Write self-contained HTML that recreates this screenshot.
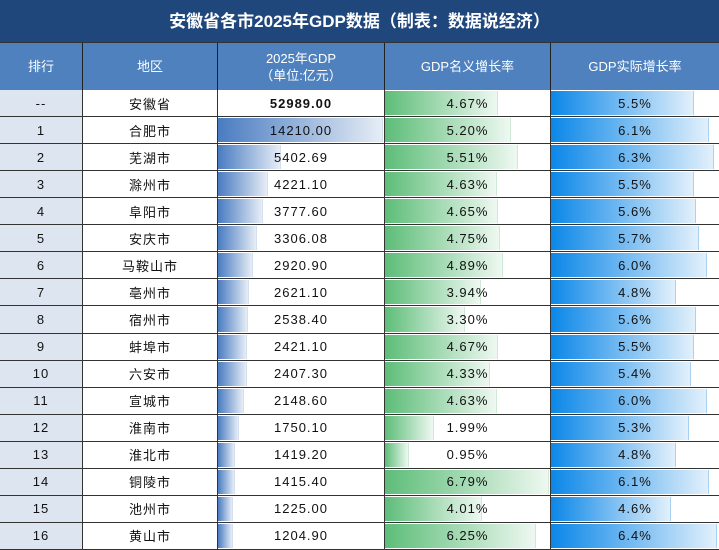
<!DOCTYPE html>
<html><head><meta charset="utf-8">
<style>
body{margin:0;width:719px;height:550px;overflow:hidden;background:#fff;font-family:"Liberation Sans","Noto Sans CJK SC",sans-serif;}
#wrap{position:relative;width:719px;height:550px;}
.title{position:absolute;left:0;top:0;width:719px;height:42px;background:#1f477c;color:#fff;font-weight:bold;font-size:17px;line-height:44px;text-align:center;border-bottom:1px solid #333;}
.hd{position:absolute;top:43px;height:47px;background:#4e81bd;color:#fff;font-size:13px;display:flex;align-items:center;justify-content:center;text-align:center;line-height:17px;border-right:1px solid #222;box-sizing:border-box;}
.cell{position:absolute;box-sizing:border-box;border-bottom:1px solid #333;border-right:1px solid #333;font-size:13px;display:flex;align-items:center;justify-content:center;color:#111;overflow:hidden;}
.bar{position:absolute;left:0;top:1px;bottom:1px;}
.txt{position:relative;letter-spacing:1px;}
</style></head><body>
<div id="wrap">
<div class="title">安徽省各市2025年GDP数据（制表：数据说经济）</div>
<div class="hd" style="left:0;width:83px">排行</div>
<div class="hd" style="left:83px;width:135px">地区</div>
<div class="hd" style="left:218px;width:167px">2025年GDP<br>（单位:亿元）</div>
<div class="hd" style="left:385px;width:166px">GDP名义增长率</div>
<div class="hd" style="left:551px;width:168px;border-right:none">GDP实际增长率</div>
</div>
<script>
const ranks=["--","1","2","3","4","5","6","7","8","9","10","11","12","13","14","15","16"];
const regions=["安徽省","合肥市","芜湖市","滁州市","阜阳市","安庆市","马鞍山市","亳州市","宿州市","蚌埠市","六安市","宣城市","淮南市","淮北市","铜陵市","池州市","黄山市"];
const gdp=[52989.00,14210.00,5402.69,4221.10,3777.60,3306.08,2920.90,2621.10,2538.40,2421.10,2407.30,2148.60,1750.10,1419.20,1415.40,1225.00,1204.90];
const nominal=[4.67,5.20,5.51,4.63,4.65,4.75,4.89,3.94,3.30,4.67,4.33,4.63,1.99,0.95,6.79,4.01,6.25];
const real=[5.5,6.1,6.3,5.5,5.6,5.7,6.0,4.8,5.6,5.5,5.4,6.0,5.3,4.8,6.1,4.6,6.4];
const wrap=document.getElementById('wrap');
const top0=90,rh=27.06;
const cols=[[0,83],[83,135],[218,167],[385,166],[551,168]];
const gMax=Math.max(...gdp.slice(1)),nMax=Math.max(...nominal),rMax=Math.max(...real);
function cell(i,c,text,bg){
  const d=document.createElement('div');d.className='cell';
  d.style.left=cols[c][0]+'px';d.style.width=cols[c][1]+'px';
  d.style.top=(top0+i*rh)+'px';d.style.height=rh+'px';
  if(bg)d.style.background=bg;
  if(c===4)d.style.borderRight='none';
  const t=document.createElement('span');t.className='txt';t.textContent=text;
  d.appendChild(t);wrap.appendChild(d);return d;
}
function addBar(d,frac,grad,w,edge){
  const b=document.createElement('div');b.className='bar';
  
  
  b.style.width=(frac*(w-3))+'px';b.style.background=grad;
  b.style.borderRight='1px solid '+edge;
  d.insertBefore(b,d.firstChild);
}
for(let i=0;i<ranks.length;i++){
  let d=cell(i,0,ranks[i],'#dde6f0');
  
  
  d=cell(i,1,regions[i]);
  
  
  d=cell(i,2,gdp[i].toFixed(2));
  
  
  if(i===0)d.style.fontWeight='bold';
  else addBar(d,gdp[i]/gMax,'linear-gradient(90deg,#4a7cc1,#e6edf6)',167,'#d5e0ee');
  d=cell(i,3,nominal[i].toFixed(2)+'%');
  
  
  addBar(d,nominal[i]/nMax,'linear-gradient(90deg,#5dbd78,#eef8f1)',166,'#cfe9d6');
  d=cell(i,4,real[i].toFixed(1)+'%');
  
  
  addBar(d,real[i]/rMax,'linear-gradient(90deg,#0b87e8,#e2f0fb)',168,'#a9d2f2');
}
</script>
</body></html>
